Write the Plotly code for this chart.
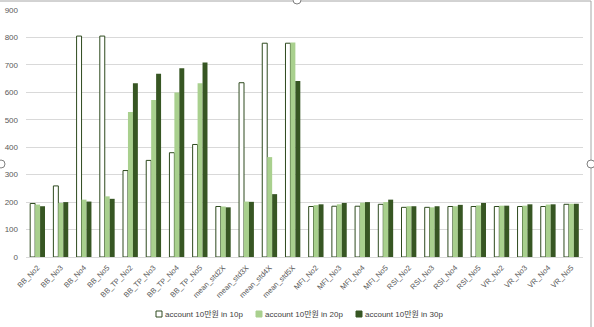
import plotly.graph_objects as go

categories = ["BB_No2", "BB_No3", "BB_No4", "BB_No5", "BB_TP_No2", "BB_TP_No3", "BB_TP_No4", "BB_TP_No5",
              "mean_std2X", "mean_std3X", "mean_std4X", "mean_std5X",
              "MFI_No2", "MFI_No3", "MFI_No4", "MFI_No5",
              "RSI_No2", "RSI_No3", "RSI_No4", "RSI_No5",
              "VR_No2", "VR_No3", "VR_No4", "VR_No5"]
s10p = [195, 259, 805, 805, 315, 352, 380, 410, 184, 635, 779, 779,
        184, 185, 185, 192, 181, 181, 184, 184, 184, 184, 184, 192]
s20p = [191, 197, 209, 221, 528, 572, 599, 633, 184, 202, 364, 782,
        189, 192, 198, 200, 185, 181, 185, 188, 187, 187, 191, 194]
s30p = [185, 200, 202, 212, 633, 668, 688, 709, 181, 201, 229, 641,
        192, 197, 200, 209, 185, 185, 190, 197, 187, 192, 192, 194]
series_names = ["account 10만원 in 10p", "account 10만원 in 20p", "account 10만원 in 30p"]
y_ticks = [0, 100, 200, 300, 400, 500, 600, 700, 800, 900]

W, H = 594, 327
L, R, T, B = 26, 11, 10, 70
PW, PH = W - L - R, H - T - B

def px(x):
    return (x - L) / PW

def py(y):
    return (H - B - y) / PH

FONT = "Liberation Sans, Noto Sans CJK KR, sans-serif"
fills = ["#FFFFFF", "#A9D08E", "#375623"]
outline = "#2E4A1E"

fig = go.Figure()
for name, vals, col in zip(series_names, [s10p, s20p, s30p], fills):
    fig.add_bar(x=categories, y=vals, name=name, showlegend=False,
                marker=dict(color=col, line=dict(color=outline, width=1 if col == "#FFFFFF" else 0)))

shapes = []
annotations = []
# custom legend (small squares like the original)
leg_x = [156, 256, 356]
leg_y = 314
for lx, name, col in zip(leg_x, series_names, fills):
    shapes.append(dict(type="rect", xref="paper", yref="paper",
                       x0=px(lx), x1=px(lx + 6), y0=py(leg_y + 3), y1=py(leg_y - 3),
                       fillcolor=col,
                       line=dict(color=outline if col == "#FFFFFF" else col, width=1)))
    annotations.append(dict(xref="paper", yref="paper", x=px(lx + 7), y=py(leg_y),
                            xanchor="left", yanchor="middle", showarrow=False, text=name,
                            font=dict(size=8, color="#404040", family=FONT)))

# chart frame (selection border)
shapes.append(dict(type="line", xref="paper", yref="paper", x0=px(0), x1=px(591), y0=py(1), y1=py(1),
                   line=dict(color="#A6A6A6", width=1)))
shapes.append(dict(type="line", xref="paper", yref="paper", x0=px(591), x1=px(591), y0=py(1), y1=py(327),
                   line=dict(color="#A6A6A6", width=1)))
for cx, cy in [(297, 0), (591, 164), (1, 164)]:
    shapes.append(dict(type="circle", xref="paper", yref="paper",
                       x0=px(cx - 4), x1=px(cx + 4), y0=py(cy - 4), y1=py(cy + 4),
                       line=dict(color="#808080", width=1), fillcolor="#FFFFFF"))

fig.update_layout(
    width=W, height=H,
    margin=dict(l=L, r=R, t=T, b=B),
    paper_bgcolor="white", plot_bgcolor="white",
    barmode="group", bargap=0.36, bargroupgap=0,
    font=dict(family=FONT, size=8, color="#595959"),
    showlegend=False,
    shapes=shapes,
    annotations=annotations,
    xaxis=dict(tickangle=-45, tickfont=dict(size=7.5, color="#595959"), showgrid=False,
               showline=False, ticks="", automargin=False, ticklabelstandoff=4),
    yaxis=dict(range=[0, 900], tickvals=y_ticks, showgrid=True, gridcolor="#D9D9D9", gridwidth=1,
               zeroline=True, zerolinecolor="#D9D9D9", zerolinewidth=1,
               tickfont=dict(size=8, color="#595959"), ticks="", automargin=False,
               ticklabelstandoff=7),
)

fig.write_html("out.html")
